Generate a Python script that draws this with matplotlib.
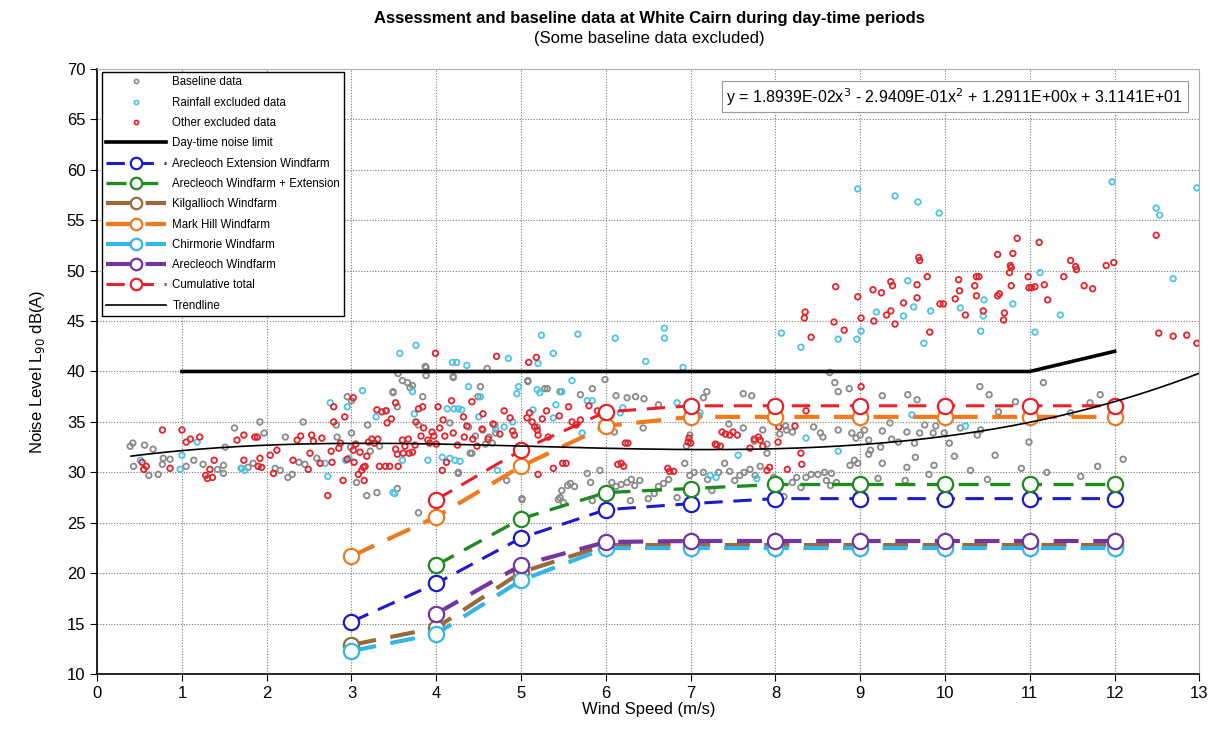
import numpy as np
import matplotlib

matplotlib.use('Agg')
import matplotlib.pyplot as plt
from matplotlib.lines import Line2D

plt.rcParams['font.family'] = ['Liberation Sans', 'DejaVu Sans']

# wind speed bins used by the prediction curves
ws = [3, 4, 5, 6, 7, 8, 9, 10, 11, 12]

limit_ws = [1, 2, 3, 4, 5, 6, 7, 8, 9, 10, 11, 12]
limit_db = [40, 40, 40, 40, 40, 40, 40, 40, 40, 40, 40, 42]

nan = np.nan
arecleoch_ext = [15.2, 19.0, 23.5, 26.3, 26.9, 27.4, 27.4, 27.4, 27.4, 27.4]
arecleoch_plus_ext = [nan, 20.8, 25.4, 28.0, 28.4, 28.8, 28.8, 28.8, 28.8, 28.8]
kilgallioch = [12.9, 14.6, 20.1, 22.8, 22.8, 22.8, 22.8, 22.8, 22.8, 22.8]
mark_hill = [21.7, 25.6, 30.6, 34.6, 35.5, 35.5, 35.5, 35.5, 35.5, 35.5]
chirmorie = [12.3, 14.0, 19.3, 22.5, 22.5, 22.5, 22.5, 22.5, 22.5, 22.5]
arecleoch = [nan, 16.0, 20.8, 23.1, 23.2, 23.2, 23.2, 23.2, 23.2, 23.2]
cumulative = [nan, 27.3, 32.2, 36.0, 36.6, 36.6, 36.6, 36.6, 36.6, 36.6]

# trendline coefficients (cubic fit shown on the chart)
trend_coef = [1.8939e-02, -2.9409e-01, 1.2911e+00, 3.1141e+01]
trend_range = (0.4, 13.0)

baseline_pts = [
    (0.39, 32.6), (0.42, 32.9), (0.43, 30.6), (0.56, 32.7), (0.61, 29.7), (0.66, 32.3), (0.72, 29.8),
    (0.77, 30.8), (0.78, 31.4), (0.86, 31.3), (1.05, 30.6), (1.14, 31.2), (1.25, 30.8), (1.49, 29.9),
    (1.49, 30.7), (1.42, 30.3), (1.51, 32.5), (1.62, 34.4), (1.70, 30.4), (1.78, 30.5), (1.84, 30.9),
    (1.92, 35.0), (1.97, 33.9), (2.10, 30.4), (2.16, 30.2), (2.22, 33.5), (2.25, 29.5), (2.30, 29.8),
    (2.38, 31.0), (2.43, 35.0), (2.45, 30.8), (2.59, 31.4), (2.82, 34.7), (2.83, 33.5), (2.95, 37.5),
    (2.99, 32.5), (3.00, 37.1), (3.00, 33.9), (3.06, 29.0), (3.18, 27.7), (3.19, 34.7), (3.22, 32.1),
    (3.30, 28.0), (3.33, 32.6), (3.49, 38.0), (3.49, 37.9), (3.54, 36.5), (3.54, 28.4), (3.55, 39.8),
    (3.60, 39.1), (3.66, 38.9), (3.69, 38.4), (3.72, 38.6), (3.79, 34.7), (3.79, 26.0), (3.84, 37.5),
    (3.87, 40.5), (3.88, 39.6), (3.88, 40.4), (4.16, 34.9), (4.20, 39.5), (4.20, 39.4), (4.26, 29.9),
    (4.26, 30.0), (4.38, 34.5), (4.40, 31.9), (4.42, 31.9), (4.46, 33.6), (4.49, 37.5), (4.52, 38.5),
    (4.55, 34.2), (4.58, 32.8), (4.60, 40.3), (4.62, 33.5), (4.66, 32.9), (4.69, 34.7), (4.70, 33.9),
    (4.83, 29.2), (5.01, 27.3), (5.01, 27.4), (5.08, 39.1), (5.08, 39.0), (5.19, 34.5), (5.28, 38.3),
    (5.31, 38.3), (5.44, 27.3), (5.46, 27.5), (5.46, 38.0), (5.48, 28.2), (5.50, 27.0), (5.55, 28.7),
    (5.58, 28.9), (5.63, 28.6), (5.70, 37.7), (5.78, 29.9), (5.82, 29.0), (5.84, 38.3), (5.84, 27.2),
    (5.93, 30.2), (5.99, 39.2), (5.99, 27.5), (6.07, 29.0), (6.10, 34.0), (6.12, 37.6), (6.12, 28.6),
    (6.18, 28.8), (6.25, 29.0), (6.25, 37.4), (6.29, 27.2), (6.30, 29.3), (6.34, 28.7), (6.35, 37.5),
    (6.40, 29.2), (6.44, 34.4), (6.45, 37.3), (6.50, 27.4), (6.57, 27.9), (6.62, 28.6), (6.62, 36.7),
    (6.68, 28.9), (6.74, 29.3), (6.84, 27.5), (6.93, 30.9), (6.95, 32.6), (6.99, 29.7), (6.99, 33.7),
    (7.04, 30.0), (7.10, 35.6), (7.15, 30.0), (7.15, 37.4), (7.19, 38.0), (7.20, 29.3), (7.25, 28.2),
    (7.33, 30.0), (7.40, 30.9), (7.45, 34.8), (7.46, 30.1), (7.52, 29.2), (7.58, 29.7), (7.62, 37.8),
    (7.62, 34.4), (7.63, 30.0), (7.70, 30.3), (7.72, 37.6), (7.75, 33.1), (7.76, 29.7), (7.82, 30.6),
    (7.85, 34.2), (7.90, 31.9), (7.90, 32.8), (7.98, 29.5), (8.05, 28.6), (8.05, 33.8), (8.10, 27.6),
    (8.12, 34.6), (8.13, 34.2), (8.20, 34.0), (8.20, 29.0), (8.25, 29.5), (8.30, 28.5), (8.36, 29.5),
    (8.42, 29.8), (8.45, 34.5), (8.50, 29.8), (8.53, 33.9), (8.56, 33.5), (8.58, 30.0), (8.60, 29.2),
    (8.64, 39.9), (8.65, 28.7), (8.66, 29.9), (8.70, 38.9), (8.72, 29.0), (8.74, 38.0), (8.74, 34.2),
    (8.87, 38.3), (8.88, 30.7), (8.90, 33.9), (8.93, 31.2), (8.95, 33.4), (8.97, 30.9), (9.00, 33.7),
    (9.05, 34.2), (9.10, 33.2), (9.10, 31.8), (9.12, 32.2), (9.21, 29.4), (9.24, 32.5), (9.26, 37.6),
    (9.26, 34.1), (9.26, 30.9), (9.35, 34.9), (9.37, 33.3), (9.45, 33.0), (9.53, 29.2), (9.55, 30.5),
    (9.55, 34.0), (9.56, 37.7), (9.64, 32.9), (9.65, 31.5), (9.67, 37.2), (9.70, 33.9), (9.76, 34.7),
    (9.81, 29.8), (9.86, 33.9), (9.87, 30.7), (9.89, 34.6), (9.99, 33.9), (10.05, 32.9), (10.11, 31.6),
    (10.18, 34.4), (10.30, 30.2), (10.38, 33.7), (10.41, 38.5), (10.42, 34.2), (10.50, 29.3),
    (10.52, 37.7), (10.59, 31.7), (10.63, 36.0), (10.83, 37.0), (10.90, 30.4), (10.99, 33.0),
    (11.16, 38.9), (11.20, 30.0), (11.48, 35.9), (11.60, 29.6), (11.71, 36.9), (11.80, 30.6),
    (11.83, 37.7), (12.10, 31.3),
]

rainfall_pts = [
    (0.51, 31.2), (0.98, 30.3), (1.00, 31.7), (1.18, 33.0), (1.71, 30.4), (1.74, 30.2), (2.69, 30.9),
    (2.72, 29.6), (2.75, 36.9), (2.93, 31.2), (2.95, 36.5), (2.97, 31.4), (3.13, 38.1), (3.29, 35.5),
    (3.40, 36.1), (3.49, 28.0), (3.51, 27.9), (3.57, 41.8), (3.60, 31.2), (3.72, 38.0), (3.74, 35.8),
    (3.76, 42.6), (3.90, 31.2), (4.07, 31.5), (4.13, 36.3), (4.16, 31.4), (4.19, 40.9), (4.21, 36.3),
    (4.22, 31.2), (4.24, 40.9), (4.26, 36.3), (4.28, 31.1), (4.30, 36.2), (4.36, 40.6), (4.38, 38.5),
    (4.50, 35.5), (4.52, 37.5), (4.70, 34.3), (4.72, 30.2), (4.80, 34.5), (4.85, 41.3), (4.90, 35.0),
    (4.95, 37.8), (4.97, 38.5), (5.14, 36.2), (5.19, 38.2), (5.22, 37.9), (5.24, 43.6), (5.20, 40.8),
    (5.38, 41.8), (5.38, 35.4), (5.41, 36.7), (5.48, 38.0), (5.60, 39.1), (5.67, 43.7), (5.72, 33.9),
    (5.78, 37.1), (5.84, 37.1), (6.11, 43.3), (6.17, 35.9), (6.20, 36.4), (6.47, 41.0), (6.69, 44.3),
    (6.69, 43.3), (6.84, 36.9), (6.91, 40.4), (7.11, 35.9), (7.23, 29.7), (7.30, 29.5), (7.56, 31.7),
    (7.78, 29.4), (8.07, 43.8), (8.30, 42.4), (8.36, 33.4), (8.74, 43.2), (8.74, 32.1), (8.96, 43.2),
    (8.97, 58.1), (9.01, 44.0), (9.19, 45.9), (9.41, 57.4), (9.51, 45.5), (9.56, 49.0), (9.61, 35.7),
    (9.63, 46.4), (9.68, 56.8), (9.75, 42.8), (9.83, 46.0), (9.93, 55.7), (10.18, 46.3), (10.24, 34.6),
    (10.42, 44.0), (10.45, 45.5), (10.46, 47.1), (10.80, 46.7), (11.06, 43.9), (11.12, 49.8),
    (11.36, 45.6), (11.97, 58.8), (12.49, 56.2), (12.53, 55.5), (12.69, 49.2), (12.97, 58.2),
]

other_pts = [
    (0.53, 31.0), (0.55, 30.3), (0.58, 30.6), (0.77, 34.2), (0.86, 30.4), (1.00, 34.2), (1.05, 33.0),
    (1.10, 33.3), (1.21, 33.5), (1.28, 29.7), (1.30, 29.4), (1.33, 30.3), (1.36, 29.5), (1.38, 31.2),
    (1.65, 33.2), (1.73, 33.7), (1.73, 31.2), (1.86, 33.5), (1.89, 33.5), (1.90, 30.6), (1.92, 31.4),
    (1.94, 30.5), (2.04, 31.7), (2.08, 29.9), (2.12, 32.2), (2.31, 31.2), (2.36, 33.2), (2.40, 33.6),
    (2.49, 30.3), (2.51, 31.9), (2.53, 33.7), (2.55, 33.1), (2.63, 30.9), (2.65, 33.4), (2.72, 27.7),
    (2.76, 32.1), (2.77, 31.0), (2.79, 35.0), (2.79, 36.5), (2.85, 32.4), (2.87, 32.9), (2.90, 29.2),
    (2.92, 35.5), (2.95, 31.3), (3.02, 32.2), (3.02, 37.4), (3.03, 31.0), (3.05, 32.8), (3.08, 29.8),
    (3.10, 32.0), (3.12, 30.2), (3.14, 30.5), (3.15, 29.2), (3.16, 30.6), (3.18, 31.6), (3.20, 33.0),
    (3.24, 33.3), (3.27, 32.9), (3.30, 36.2), (3.31, 33.3), (3.33, 30.6), (3.36, 36.0), (3.40, 30.6),
    (3.41, 36.1), (3.42, 34.9), (3.45, 30.6), (3.47, 35.3), (3.52, 36.9), (3.52, 32.3), (3.54, 31.8),
    (3.55, 30.6), (3.60, 33.2), (3.61, 31.9), (3.63, 32.6), (3.67, 33.3), (3.68, 31.9), (3.72, 32.0),
    (3.75, 32.7), (3.76, 35.0), (3.79, 36.3), (3.82, 33.6), (3.84, 36.5), (3.85, 34.4), (3.90, 33.2),
    (3.92, 32.9), (3.95, 34.0), (3.97, 33.6), (3.99, 41.8), (4.00, 32.8), (4.02, 36.5), (4.04, 34.4),
    (4.07, 30.2), (4.08, 35.2), (4.10, 33.6), (4.12, 31.0), (4.18, 37.1), (4.20, 33.9), (4.25, 32.7),
    (4.32, 35.5), (4.33, 33.5), (4.36, 34.6), (4.42, 37.0), (4.43, 33.3), (4.48, 32.6), (4.54, 34.3),
    (4.55, 35.8), (4.61, 33.3), (4.67, 34.8), (4.71, 41.5), (4.75, 33.8), (4.80, 36.1), (4.87, 35.4),
    (4.90, 34.1), (4.92, 33.7), (4.97, 32.3), (5.07, 35.4), (5.09, 40.9), (5.10, 35.9), (5.13, 35.0),
    (5.16, 34.5), (5.18, 41.4), (5.19, 34.2), (5.20, 33.7), (5.20, 29.8), (5.25, 35.3), (5.30, 36.1),
    (5.32, 33.5), (5.38, 30.4), (5.45, 35.6), (5.49, 30.9), (5.53, 30.9), (5.56, 36.5), (5.60, 35.0),
    (5.65, 34.7), (5.70, 35.2), (5.80, 36.6), (5.90, 36.1), (5.99, 35.7), (6.14, 30.8), (6.18, 30.9),
    (6.21, 30.6), (6.23, 32.9), (6.26, 32.9), (6.73, 30.4), (6.75, 30.1), (6.80, 30.1), (6.97, 33.0),
    (6.98, 33.4), (7.00, 32.9), (7.29, 32.8), (7.31, 32.7), (7.35, 32.6), (7.37, 34.0), (7.41, 33.8),
    (7.46, 33.7), (7.50, 34.0), (7.55, 33.7), (7.70, 32.4), (7.75, 33.3), (7.80, 33.5), (7.82, 33.2),
    (7.85, 32.6), (7.90, 30.2), (7.93, 30.5), (8.03, 33.0), (8.04, 34.5), (8.14, 30.3), (8.23, 34.6),
    (8.30, 31.9), (8.31, 30.8), (8.36, 36.1), (9.01, 38.5), (8.35, 45.9), (8.34, 45.3), (8.42, 43.4),
    (8.69, 44.9), (8.71, 48.4), (8.81, 44.1), (8.97, 47.4), (9.01, 45.3), (9.15, 48.1), (9.16, 45.0),
    (9.25, 47.8), (9.31, 45.6), (9.36, 46.0), (9.36, 48.9), (9.38, 48.5), (9.41, 44.7), (9.51, 46.8),
    (9.67, 48.6), (9.67, 47.3), (9.69, 51.3), (9.70, 51.0), (9.79, 49.4), (9.82, 43.9), (9.94, 46.7),
    (9.98, 46.7), (10.12, 47.2), (10.16, 49.1), (10.17, 48.0), (10.24, 45.6), (10.35, 48.5),
    (10.37, 49.4), (10.40, 49.4), (10.37, 47.5), (10.45, 46.0), (10.62, 47.5), (10.64, 47.7),
    (10.62, 51.6), (10.69, 45.1), (10.70, 45.8), (10.76, 49.8), (10.77, 50.5), (10.78, 50.3),
    (10.78, 48.5), (10.80, 51.7), (10.85, 53.2), (10.98, 49.4), (10.99, 48.3), (11.02, 48.3),
    (11.06, 48.4), (11.11, 52.8), (11.17, 48.6), (11.21, 47.1), (11.40, 49.4), (11.48, 51.0),
    (11.54, 50.4), (11.55, 50.1), (11.64, 48.5), (11.74, 48.2), (11.90, 50.5), (11.99, 50.8),
    (12.49, 53.5), (12.52, 43.8), (12.69, 43.5), (12.85, 43.6), (12.97, 42.8),
]

fig = plt.figure(figsize=(12.14, 7.32), dpi=100)
ax = fig.add_axes([0.080, 0.079, 0.908, 0.827])

grey_c = '#8a8a8a'
rain_c = '#4ec3e6'
other_c = '#e3242b'

bx, by = np.array(baseline_pts).T
rx, ry = np.array(rainfall_pts).T
ox, oy = np.array(other_pts).T
ax.scatter(bx, by, s=16, facecolors='none', edgecolors=grey_c, linewidths=1.3, zorder=2)
ax.scatter(rx, ry, s=16, facecolors='none', edgecolors=rain_c, linewidths=1.3, zorder=2)
ax.scatter(ox, oy, s=16, facecolors='none', edgecolors=other_c, linewidths=1.3, zorder=2)

limit_line, = ax.plot(limit_ws, limit_db, color='black', lw=2.6, zorder=3)

series = [
    ('Arecleoch Extension Windfarm', arecleoch_ext, '#1a1ad0', 2.2),
    ('Arecleoch Windfarm + Extension', arecleoch_plus_ext, '#1f8a1f', 2.4),
    ('Kilgallioch Windfarm', kilgallioch, '#9a6a3a', 3.0),
    ('Mark Hill Windfarm', mark_hill, '#f07a1e', 3.0),
    ('Chirmorie Windfarm', chirmorie, '#35b6e6', 3.0),
    ('Arecleoch Windfarm', arecleoch, '#7434a2', 3.0),
    ('Cumulative total', cumulative, '#e8202a', 2.2),
]
series_lines = []
for name, vals, col, lw in series:
    ln, = ax.plot(ws, vals, color=col, lw=lw, dashes=(6, 3.5), marker='o', markersize=11,
                  markerfacecolor='white', markeredgecolor=col, markeredgewidth=1.6,
                  label=name, zorder=4)
    series_lines.append(ln)

tx = np.linspace(trend_range[0], trend_range[1], 200)
trend_line, = ax.plot(tx, np.polyval(trend_coef, tx), color='black', lw=1.2, zorder=5)

ax.set_xlim(0, 13)
ax.set_ylim(10, 70)
ax.set_xticks(range(0, 14))
ax.set_yticks(range(10, 71, 5))
ax.tick_params(direction='out', length=5, labelsize=12, colors='black')
ax.grid(True, color='#7a7a7a', linestyle=(0, (1, 1.5)), lw=0.8, zorder=0)
ax.set_axisbelow(True)
for side in ['top', 'right']:
    ax.spines[side].set_color('#b0b0b0')
for side in ['left', 'bottom']:
    ax.spines[side].set_color('black')
    ax.spines[side].set_linewidth(1.2)

ax.set_xlabel('Wind Speed (m/s)', fontsize=12, labelpad=1)
ax.set_ylabel(r'Noise Level L$_{90}$ dB(A)', fontsize=12, labelpad=14)

fig.text(0.535, 0.975, 'Assessment and baseline data at White Cairn during day-time periods',
         ha='center', va='center', fontsize=12, fontweight='bold')
fig.text(0.535, 0.947, '(Some baseline data excluded)', ha='center', va='center', fontsize=12)

eq = 'y = 1.8939E-02x$^3$ - 2.9409E-01x$^2$ + 1.2911E+00x + 3.1141E+01'
ax.text(0.985, 0.954, eq, transform=ax.transAxes, ha='right', va='center', fontsize=11.5,
        bbox=dict(boxstyle='square,pad=0.3', facecolor='white', edgecolor='#9a9a9a', lw=0.8),
        zorder=6)

pt_kw = dict(linestyle='none', marker='o', markersize=4, markerfacecolor='none', markeredgewidth=1.2)
handles = [
    Line2D([], [], markeredgecolor=grey_c, **pt_kw),
    Line2D([], [], markeredgecolor=rain_c, **pt_kw),
    Line2D([], [], markeredgecolor=other_c, **pt_kw),
    limit_line,
] + series_lines + [trend_line]
labels = ['Baseline data', 'Rainfall excluded data', 'Other excluded data', 'Day-time noise limit'] + \
         [s[0] for s in series] + ['Trendline']
leg = ax.legend(handles, labels, loc='upper left', bbox_to_anchor=(0.004, 0.994), borderaxespad=0,
                fontsize=8.3, handlelength=5.2, handletextpad=0.6, labelspacing=0.72, borderpad=0.35,
                fancybox=False, framealpha=1, edgecolor='black', markerscale=0.75)
leg.get_frame().set_linewidth(1.0)
leg.set_zorder(7)

fig.savefig('out.png', dpi=100)
